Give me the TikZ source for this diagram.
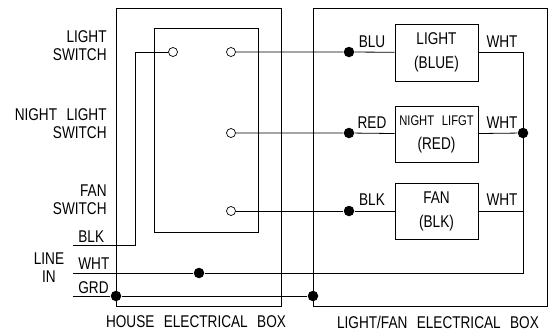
\documentclass[tikz,border=0pt]{standalone}
\usepackage{fontspec}
\setmainfont[FakeStretch=0.8,WordSpace=2.5]{Liberation Sans}
\begin{document}
\begin{tikzpicture}[x=1pt, y=-1pt, line width=0.8pt]
        \tikzstyle{terminal}=[circle,draw,fill=white,line width=0.7pt,minimum size=9pt,inner sep=0pt]
        \tikzstyle{junction}=[circle,fill=black,minimum size=10.5pt,inner sep=0pt]
        \tikzstyle{fixture}=[draw,rectangle,minimum width=83pt,minimum height=57pt,align=center,inner sep=0pt,font=\fontsize{17}{24}\selectfont]
        \tikzstyle{label}=[inner sep=1pt,font=\fontsize{17}{18}\selectfont]

        \useasboundingbox (0,0) rectangle (555,333);

        % boxes
        \draw (116,8) rectangle (281,306);
        \draw (313,8) rectangle (547,306);
        \draw (154,28) rectangle (258,232);

        % switch terminals
        \node[terminal] (T_1) at (173,52)  {};
        \node[terminal] (T_2) at (231,52)  {};
        \node[terminal] (T_3) at (231,133) {};
        \node[terminal] (T_4) at (231,211) {};

        % fixtures
        \node[fixture] (F_1) at (436.5,52.5) {LIGHT\\(BLUE)};
        \node[fixture,minimum height=56pt] (F_2) at (436.5,134) {{\fontsize{14}{24}\selectfont NIGHT LIFGT}\\(RED)};
        \node[fixture,minimum height=56pt] (F_3) at (436.5,211) {FAN\\(BLK)};

        % junctions
        \node[junction] (J_1) at (349,52)  {};
        \node[junction] (J_2) at (349,133) {};
        \node[junction] (J_3) at (349,211) {};
        \node[junction] (J_4) at (523,133) {};
        \node[junction] (J_5) at (199,273) {};
        \node[junction] (J_6) at (116,296) {};
        \node[junction] (J_7) at (313,296) {};

        \coordinate (C_blk) at (73,245);
        \coordinate (C_wht) at (73,273);
        \coordinate (C_grd) at (73,296);
        \coordinate (K_1) at (135,245);
        \coordinate (K_2) at (523,273);

        % wires
        \draw (T_1) -| (K_1) -- (C_blk);
        \draw (T_2) -- (J_1) -- (F_1);
        \draw (T_3) -- (J_2) -- (F_2);
        \draw (T_4) -- (J_3) -- (F_3);
        \draw (F_1) -| (K_2) -- (J_5) -- (C_wht);
        \draw (F_2) -- (J_4);
        \draw (F_3.east) -- (F_3.east -| J_4);
        \draw (C_grd) -- (J_6) -- (J_7);

        % labels
        \node[label,align=right,anchor=east] (L_1) at (108,46)  {LIGHT\\SWITCH};
        \node[label,align=right,anchor=east] (L_2) at (108,124) {NIGHT LIGHT\\SWITCH};
        \node[label,align=right,anchor=east] (L_3) at (108,200) {FAN\\SWITCH};
        \node[label,anchor=west] (L_4) at (77,237) {BLK};
        \node[label,anchor=west] (L_5) at (77,264) {WHT};
        \node[label,anchor=west] (L_6) at (77,288) {GRD};
        \node[label,align=center] (L_7) at (49,268) {LINE\\IN};
        \node[label] (L_8)  at (372,42)  {BLU};
        \node[label] (L_9)  at (502,42)  {WHT};
        \node[label] (L_10) at (372,123) {RED};
        \node[label] (L_11) at (502,123) {WHT};
        \node[label] (L_12) at (372,200) {BLK};
        \node[label] (L_13) at (502,200) {WHT};
        \node[label] (L_14) at (196,322) {HOUSE ELECTRICAL BOX};
        \node[label] (L_15) at (438,322) {LIGHT/FAN ELECTRICAL BOX};
    \end{tikzpicture}
\end{document}
